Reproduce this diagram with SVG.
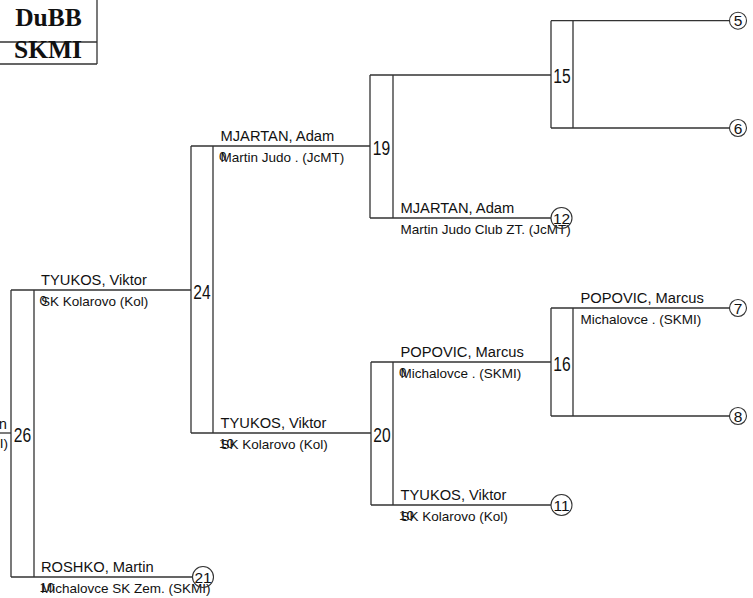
<svg xmlns="http://www.w3.org/2000/svg" width="753" height="598" viewBox="0 0 753 598">
<style>
.ln{stroke:#333;stroke-width:1.3;fill:none}
.ci{stroke:#333;stroke-width:1.1;fill:none}
text{font-family:"Liberation Sans",Arial,sans-serif;fill:#111}
.nm{font-size:14.7px}
.cl{font-size:13.5px}
.sc{font-size:13.5px}
.bn{font-size:19.5px;text-anchor:middle}
.cn{font-size:15.5px;text-anchor:middle}
.hd{font-family:"Liberation Serif","Times New Roman",serif;font-weight:bold;font-size:25.5px;text-anchor:middle}
</style>
<rect width="753" height="598" fill="#fff"/>
<g id="header">
<path class="ln" d="M97,0 V64 M0,42 H97 M0,64 H97"/>
<text class="hd" x="48.5" y="26">DuBB</text>
<text class="hd" x="48" y="57.5">SKMI</text>
</g>
<g id="connectors">
<path class="ln" d="M0,433 H11"/>
<path class="ln" d="M11,290 V577 M34,290 V577 M11,290 H191 M11,577 H192.5"/>
<path class="ln" d="M191,146 V433 M213,146 V433 M191,146 H370 M191,433 H371"/>
<path class="ln" d="M370,75 V218 M393,75 V218 M370,75 H551 M370,218 H551"/>
<path class="ln" d="M371,362 V505 M393,362 V505 M371,362 H551 M371,505 H551"/>
<path class="ln" d="M551,20.7 V128 M573,20.7 V128 M551,20.7 H729.5 M551,128 H729.5"/>
<path class="ln" d="M551,308 V416 M573,308 V416 M551,308 H729.5 M551,416 H729.5"/>
</g>
<g id="m26"><text class="bn" transform="translate(22.5,442) scale(0.8,1)">26</text></g>
<g id="m24"><text class="bn" transform="translate(202,298.5) scale(0.8,1)">24</text></g>
<g id="m19"><text class="bn" transform="translate(381.5,155) scale(0.8,1)">19</text></g>
<g id="m20"><text class="bn" transform="translate(382,442) scale(0.8,1)">20</text></g>
<g id="m15"><text class="bn" transform="translate(562,83) scale(0.8,1)">15</text></g>
<g id="m16"><text class="bn" transform="translate(562,370.5) scale(0.8,1)">16</text></g>
<g id="p-left">
<text class="nm" x="7" y="429" text-anchor="end">ROSHKO, Martin</text>
<text class="cl" x="8" y="448" text-anchor="end">Michalovce SK Zem. (SKMI)</text>
</g>
<g id="p-tyukos-1">
<text class="nm" x="41" y="285">TYUKOS, Viktor</text>
<text class="cl" x="41" y="305.5">SK Kolarovo (Kol)</text>
<text class="sc" x="39.5" y="305">0</text>
</g>
<g id="p-roshko">
<text class="nm" x="41" y="572">ROSHKO, Martin</text>
<text class="cl" x="41" y="592.5">Michalovce SK Zem. (SKMI)</text>
<text class="sc" x="39.5" y="592">10</text>
</g>
<g id="p-mjartan-2">
<text class="nm" x="220.5" y="141">MJARTAN, Adam</text>
<text class="cl" x="220.5" y="161.5">Martin Judo . (JcMT)</text>
<text class="sc" x="219" y="161">0</text>
</g>
<g id="p-tyukos-2">
<text class="nm" x="220.5" y="428">TYUKOS, Viktor</text>
<text class="cl" x="220.5" y="448.5">SK Kolarovo (Kol)</text>
<text class="sc" x="219" y="448">10</text>
</g>
<g id="p-mjartan-3">
<text class="nm" x="400.5" y="213">MJARTAN, Adam</text>
<text class="cl" x="400.5" y="234">Martin Judo Club ZT. (JcMT)</text>
</g>
<g id="p-popovic-3">
<text class="nm" x="400.5" y="357">POPOVIC, Marcus</text>
<text class="cl" x="400.5" y="377.5">Michalovce . (SKMI)</text>
<text class="sc" x="399" y="377">0</text>
</g>
<g id="p-tyukos-3">
<text class="nm" x="400.5" y="500">TYUKOS, Viktor</text>
<text class="cl" x="400.5" y="520.5">SK Kolarovo (Kol)</text>
<text class="sc" x="399" y="520">10</text>
</g>
<g id="p-popovic-4">
<text class="nm" x="580.5" y="303">POPOVIC, Marcus</text>
<text class="cl" x="580.5" y="323.5">Michalovce . (SKMI)</text>
</g>
<g id="s5"><circle class="ci" cx="738" cy="20.7" r="8.5"/><text class="cn" x="738" y="26.2">5</text></g>
<g id="s6"><circle class="ci" cx="738" cy="128" r="8.5"/><text class="cn" x="738" y="133.5">6</text></g>
<g id="s7"><circle class="ci" cx="738" cy="308" r="8.5"/><text class="cn" x="738" y="313.5">7</text></g>
<g id="s8"><circle class="ci" cx="738" cy="416" r="8.5"/><text class="cn" x="738" y="421.5">8</text></g>
<g id="s12"><circle class="ci" cx="561.5" cy="218" r="10.5"/><text class="cn" x="561.5" y="223.5">12</text></g>
<g id="s11"><circle class="ci" cx="561.5" cy="505" r="10.5"/><text class="cn" x="561.5" y="510.5">11</text></g>
<g id="s21"><circle class="ci" cx="203" cy="577" r="10.5"/><text class="cn" x="203" y="582.5">21</text></g>
</svg>
